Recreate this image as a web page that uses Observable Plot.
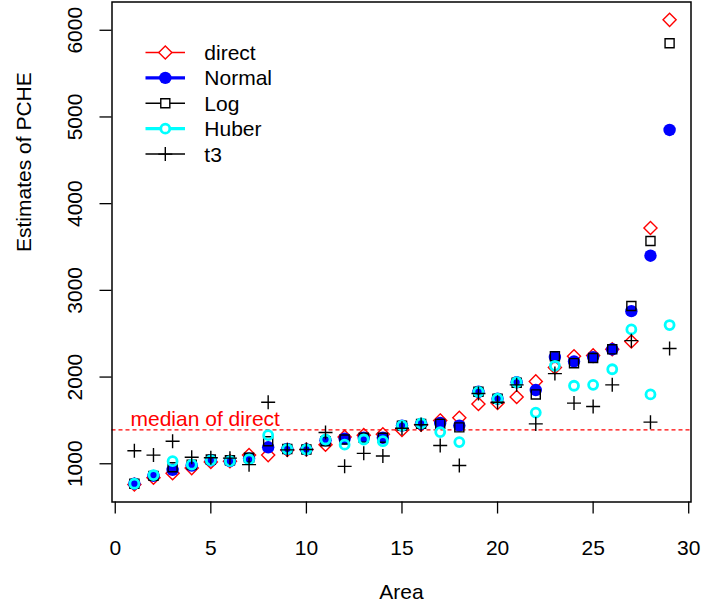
<!DOCTYPE html>
<html><head><meta charset="utf-8">
<script src="https://cdn.jsdelivr.net/npm/d3@7"></script>
<script src="https://cdn.jsdelivr.net/npm/@observablehq/plot@0.6"></script>
<style>
html,body{margin:0;padding:0;background:#fff;}
#chart svg{display:block;}
</style></head>
<body><div id="chart"></div>
<script>
// ---- data ----
const area   = [1,2,3,4,5,6,7,8,9,10,11,12,13,14,15,16,17,18,19,20,21,22,23,24,25,26,27,28,29];
const direct = [760,840,890,950,1020,1030,1100,1100,1160,1165,1220,1310,1330,1340,1390,1450,1500,1530,1690,1700,1770,1950,2110,2240,2250,2320,2410,3720,6120];
const normal = [770,860,930,980,1040,1030,1060,1190,1170,1165,1270,1290,1300,1300,1440,1460,1470,1440,1830,1750,1940,1850,2230,2180,2230,2320,2760,3400,4850];
const logE   = [770,860,960,990,1050,1040,1070,1260,1170,1165,1260,1280,1300,1300,1440,1460,1460,1420,1830,1750,1935,1800,2240,2160,2220,2320,2820,3570,5850];
const huber  = [770,870,1030,990,1040,1030,1050,1330,1170,1165,1280,1220,1280,1260,1440,1465,1365,1250,1830,1750,1940,1590,2130,1900,1910,2090,2550,1800,2600];
const t3     = [1150,1100,1260,1076,1070,1065,990,1710,1160,1165,1360,970,1120,1090,1410,1450,1210,980,1810,1710,1910,1460,2040,1700,1660,1910,2420,1480,2330];
const seriesNames = ["direct","Normal","Log","Huber","t3"];
const xTicks = [0,5,10,15,20,25,30];
const yTicks = [1000,2000,3000,4000,5000,6000];
const xLabel = "Area";
const yLabel = "Estimates of PCHE";
const medianLabel = "median of direct";

// ---- styles ----
const FONT = '"Liberation Sans", Arial, Helvetica, sans-serif';
const RED = "#FF0000", BLUE = "#0000FF", CYAN = "#00FFFF", BLACK = "#000000";

// radius for a "plus" symbol whose arms are ~7px long, whatever d3's constant
function plusRadius(halfArm) {
  const p = d3.symbol(d3.symbolPlus, 100)();
  const nums = p.match(/-?\d*\.?\d+(e-?\d+)?/g).map(Number);
  const h100 = d3.max(nums, Math.abs);
  const c = h100 / Math.sqrt(100 - Math.min(100 / 7, 2));
  const size = (halfArm / c) ** 2 + 2;
  return Math.sqrt(size / Math.PI);
}

const styles = {
  direct: {symbol: "diamond2", r: 5.9, stroke: RED, fill: "none", sw: 1.4, lw: 1.5},
  Normal: {symbol: "circle", r: 6.2, stroke: "none", fill: BLUE, sw: 0, lw: 3.2},
  Log:    {symbol: "square", r: 5.1, stroke: BLACK, fill: "none", sw: 1.4, lw: 1.5},
  Huber:  {symbol: "circle", r: 4.5, stroke: CYAN, fill: "none", sw: 2.8, lw: 3.2},
  t3:     {symbol: "plus", r: plusRadius(7), stroke: BLACK, fill: "none", sw: 1.4, lw: 1.5}
};
const values = {direct, Normal: normal, Log: logE, Huber: huber, t3};
const rows = (vals) => area.map((a, i) => ({area: a, value: vals[i]}));
const med = d3.median(direct);

const dotMarks = seriesNames.map(name => {
  const s = styles[name];
  return Plot.dot(rows(values[name]), {
    x: "area", y: "value", symbol: s.symbol, r: s.r,
    stroke: s.stroke, fill: s.fill, strokeWidth: s.sw
  });
});

const plot = Plot.plot({
  width: 701, height: 607,
  marginLeft: 111.5, marginRight: 10.5, marginTop: 1.5, marginBottom: 105.5,
  style: {fontFamily: FONT, fontSize: "21px", background: "white", color: "black", overflow: "visible"},
  x: {domain: [-0.17, 30.12]},
  y: {domain: [559, 6326]},
  marks: [
    Plot.ruleY([med], {stroke: RED, strokeWidth: 1.2, strokeDasharray: "4,3"}),
    Plot.text([med], {y: d => d, frameAnchor: "left", dx: 18.5, dy: -3.5, text: () => medianLabel,
      textAnchor: "start", lineAnchor: "bottom", fill: RED}),
    ...dotMarks,
    Plot.frame({stroke: BLACK, strokeWidth: 1.5}),
    Plot.axisX({ticks: xTicks, tickSize: 12, tickPadding: 26.5, label: null, tickFormat: d => String(d), strokeWidth: 1.3}),
    Plot.axisY({ticks: yTicks, tickSize: 12, tickPadding: 18.5, tickRotate: -90, textAnchor: "middle",
      lineAnchor: "bottom", label: null, tickFormat: d => String(d), strokeWidth: 1.3}),
    Plot.text([xLabel], {frameAnchor: "bottom", dy: 90.5, lineAnchor: "middle", text: d => d}),
    Plot.text([yLabel], {frameAnchor: "left", dx: -81.5, rotate: -90, lineAnchor: "bottom", text: d => d})
  ]
});

// ---- legend (inside the plot, top-left) ----
const svg = d3.select(plot);
const lg = svg.append("g").attr("font-family", FONT).attr("font-size", 21).attr("text-anchor", "start");
const symType = {diamond2: d3.symbolDiamond2, circle: d3.symbolCircle, square: d3.symbolSquare, plus: d3.symbolPlus};
seriesNames.forEach((name, i) => {
  const s = styles[name];
  const cy = 52.5 + 25.4 * i;
  const lineColor = s.stroke === "none" ? s.fill : s.stroke;
  lg.append("line").attr("x1", 145.5).attr("x2", 185).attr("y1", cy).attr("y2", cy)
    .attr("stroke", lineColor).attr("stroke-width", s.lw);
  if (s.symbol === "circle") {
    lg.append("circle").attr("cx", 165.3).attr("cy", cy).attr("r", s.r)
      .attr("fill", s.fill === "none" ? "white" : s.fill)
      .attr("stroke", s.stroke).attr("stroke-width", s.sw);
  } else {
    lg.append("path").attr("transform", `translate(165.3,${cy})`)
      .attr("d", d3.symbol(symType[s.symbol], Math.PI * s.r * s.r)())
      .attr("fill", s.symbol === "plus" ? "none" : "white")
      .attr("stroke", s.stroke).attr("stroke-width", s.sw);
  }
  lg.append("text").attr("x", 204.3).attr("y", cy + 7.5).attr("fill", "black")
    .attr("text-anchor", "start").text(name);
});

document.getElementById("chart").appendChild(plot);
</script>
</body></html>
